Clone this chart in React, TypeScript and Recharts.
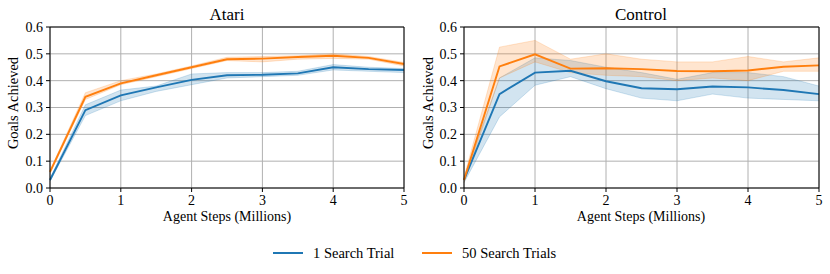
import React from "react";
import {
  Area,
  CartesianGrid,
  ComposedChart,
  Line,
  ReferenceLine,
  XAxis,
  YAxis,
} from "recharts";

const steps = [0, 0.5, 1, 1.5, 2, 2.5, 3, 3.5, 4, 4.5, 5];
const xTicks = [0, 1, 2, 3, 4, 5];
const yTicks = [0, 0.1, 0.2, 0.3, 0.4, 0.5, 0.6];
const seriesNames = ["1 Search Trial", "50 Search Trials"];

// Atari
const atariOne = [0.03, 0.29, 0.345, 0.375, 0.403, 0.42, 0.422, 0.427, 0.45, 0.443, 0.44];
const atariOneLo = [0.025, 0.27, 0.325, 0.36, 0.385, 0.41, 0.415, 0.42, 0.44, 0.435, 0.43];
const atariOneHi = [0.035, 0.31, 0.365, 0.38, 0.425, 0.43, 0.43, 0.435, 0.46, 0.45, 0.445];
const atariFifty = [0.06, 0.34, 0.39, 0.42, 0.45, 0.48, 0.482, 0.488, 0.493, 0.485, 0.462];
const atariFiftyLo = [0.055, 0.33, 0.385, 0.415, 0.445, 0.475, 0.47, 0.48, 0.483, 0.48, 0.455];
const atariFiftyHi = [0.065, 0.355, 0.4, 0.425, 0.455, 0.487, 0.49, 0.493, 0.5, 0.49, 0.468];

// Control
const controlOne = [0.03, 0.35, 0.43, 0.437, 0.398, 0.372, 0.368, 0.378, 0.375, 0.365, 0.35];
const controlOneLo = [0.02, 0.265, 0.383, 0.415, 0.37, 0.335, 0.325, 0.35, 0.335, 0.33, 0.325];
const controlOneHi = [0.04, 0.41, 0.485, 0.475, 0.45, 0.43, 0.405, 0.43, 0.43, 0.415, 0.38];
const controlFifty = [0.03, 0.453, 0.498, 0.445, 0.446, 0.443, 0.436, 0.435, 0.438, 0.452, 0.457];
const controlFiftyLo = [0.02, 0.41, 0.47, 0.43, 0.42, 0.415, 0.4, 0.41, 0.4, 0.435, 0.435];
const controlFiftyHi = [0.04, 0.525, 0.55, 0.48, 0.5, 0.48, 0.47, 0.47, 0.49, 0.47, 0.485];

const BLUE = "#1f77b4";
const ORANGE = "#ff7f0e";
const FONT = "Liberation Serif";

function buildRows(one: number[], oneLo: number[], oneHi: number[], fifty: number[], fiftyLo: number[], fiftyHi: number[]) {
  return steps.map((x, i) => ({
    x,
    one: one[i],
    oneBand: [oneLo[i], oneHi[i]],
    fifty: fifty[i],
    fiftyBand: [fiftyLo[i], fiftyHi[i]],
  }));
}

const atariRows = buildRows(atariOne, atariOneLo, atariOneHi, atariFifty, atariFiftyLo, atariFiftyHi);
const controlRows = buildRows(controlOne, controlOneLo, controlOneHi, controlFifty, controlFiftyLo, controlFiftyHi);

const txt = (size: number) => ({ fontFamily: FONT, fontSize: size, fill: "#000" });

function Panel({ title, rows, yWidth }: { title: string; rows: any[]; yWidth: number }) {
  const tickStyle = { fill: "#000", fontSize: 14, fontFamily: FONT, style: { fontFamily: FONT } };
  const cx = yWidth + 177;
  return (
    <ComposedChart
      width={415}
      height={230}
      data={rows}
      margin={{ top: 27, right: 11, bottom: 12, left: 0 }}
      style={{ fontFamily: FONT }}
    >
      <text x={cx} y={20} textAnchor="middle" style={txt(17)}>
        {title}
      </text>
      <CartesianGrid stroke="#b0b0b0" strokeWidth={1} />
      <XAxis
        dataKey="x"
        type="number"
        domain={[0, 5]}
        ticks={xTicks}
        tick={tickStyle}
        tickSize={4}
        tickMargin={3}
        height={30}
        stroke="#000"
        label={() => (
          <text x={cx} y={221} textAnchor="middle" style={txt(14)}>
            Agent Steps (Millions)
          </text>
        )}
      />
      <YAxis
        type="number"
        domain={[0, 0.6]}
        ticks={yTicks}
        tickFormatter={(v: number) => v.toFixed(1)}
        tick={tickStyle}
        tickSize={4}
        tickMargin={3}
        width={yWidth}
        stroke="#000"
        label={() => (
          <text x={18} y={103} textAnchor="middle" style={txt(14.5)} transform="rotate(-90 18 103)">
            Goals Achieved
          </text>
        )}
      />
      <Area dataKey="oneBand" stroke={BLUE} strokeOpacity={0.2} fill={BLUE} fillOpacity={0.2} isAnimationActive={false} />
      <Line dataKey="one" stroke={BLUE} strokeWidth={1.9} dot={false} isAnimationActive={false} />
      <Area dataKey="fiftyBand" stroke={ORANGE} strokeOpacity={0.2} fill={ORANGE} fillOpacity={0.2} isAnimationActive={false} />
      <Line dataKey="fifty" stroke={ORANGE} strokeWidth={1.9} dot={false} isAnimationActive={false} />
      <ReferenceLine y={0.6} stroke="#000" strokeWidth={1} />
      <ReferenceLine x={5} stroke="#000" strokeWidth={1} />
    </ComposedChart>
  );
}

function LegendItem({ color, label, left }: { color: string; label: string; left: number }) {
  return (
    <div style={{ position: "absolute", left, top: 244, height: 18, display: "flex", alignItems: "center" }}>
      <div style={{ width: 30, height: 2, background: color, marginRight: 10 }} />
      <span style={{ fontFamily: FONT, fontSize: 14.5 }}>{label}</span>
    </div>
  );
}

export default function App() {
  return (
    <div
      style={{ position: "absolute", left: 0, top: 0, width: 830, height: 274, background: "#fff", fontFamily: FONT }}
    >
      <div style={{ display: "flex" }}>
        <Panel title="Atari" rows={atariRows} yWidth={50} />
        <Panel title="Control" rows={controlRows} yWidth={49} />
      </div>
      <LegendItem color={BLUE} label={seriesNames[0]} left={273} />
      <LegendItem color={ORANGE} label={seriesNames[1]} left={422} />
    </div>
  );
}
